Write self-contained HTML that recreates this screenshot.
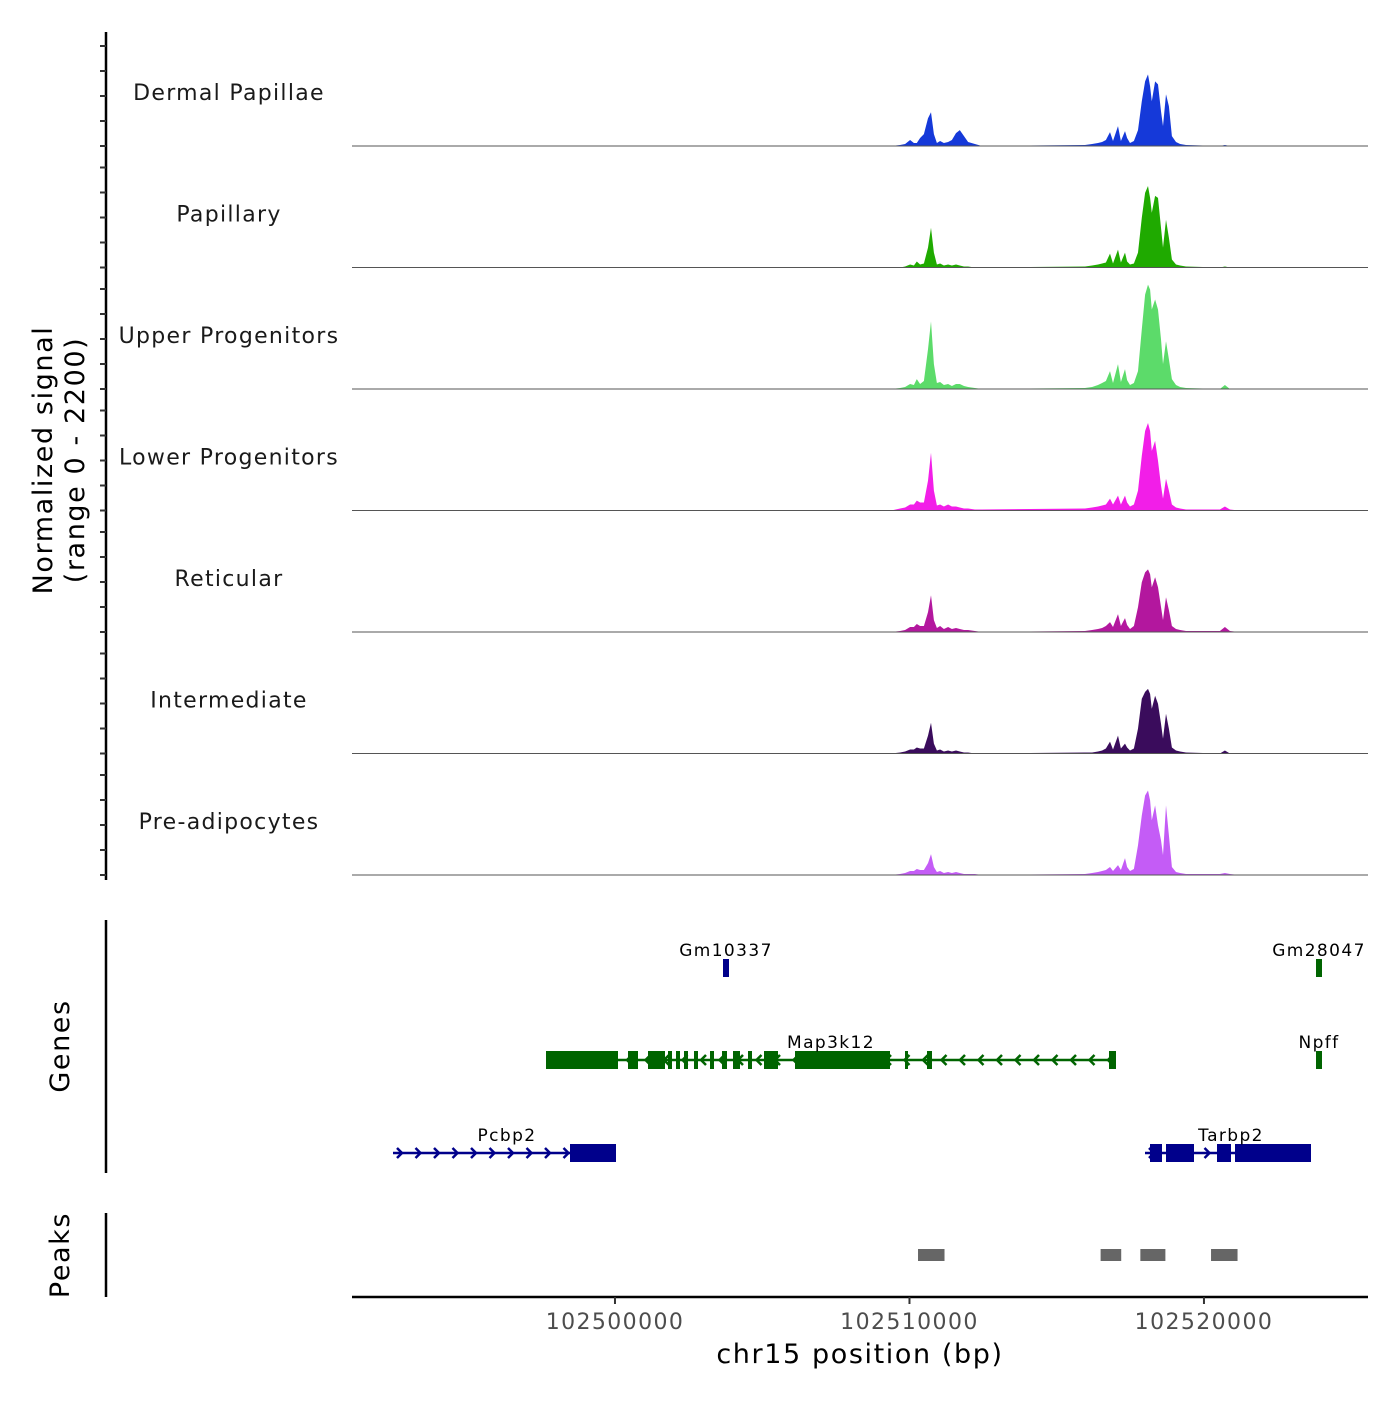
<!DOCTYPE html>
<html><head><meta charset="utf-8"><style>
body{margin:0;background:#fff}
svg text{font-family:"DejaVu Sans","Liberation Sans",sans-serif}
</style></head><body>
<svg id="chart" width="1400" height="1400" viewBox="0 0 1400 1400" xmlns="http://www.w3.org/2000/svg">
<g id="tracks"></g>
<g id="yaxis"></g>
<text transform="translate(52,460) rotate(-90)" text-anchor="middle" font-size="27" letter-spacing="1.6" fill="#000">Normalized signal</text>
<text transform="translate(84,460) rotate(-90)" text-anchor="middle" font-size="27" letter-spacing="1.6" fill="#000">(range 0 - 2200)</text>
<line x1="106" y1="920" x2="106" y2="1173" stroke="#000" stroke-width="2.5"/>
<text transform="translate(69,1046) rotate(-90)" text-anchor="middle" font-size="27" letter-spacing="1.6" fill="#000">Genes</text>
<g id="genes"></g>
<line x1="106" y1="1213" x2="106" y2="1297" stroke="#000" stroke-width="2.5"/>
<text transform="translate(69,1255) rotate(-90)" text-anchor="middle" font-size="27" letter-spacing="1.6" fill="#000">Peaks</text>
<g id="peaks"></g>
<g id="xaxis"></g>
<text x="860" y="1363" text-anchor="middle" font-size="27" letter-spacing="1.6" fill="#000">chr15 position (bp)</text>
</svg>
<script>
const trackNames=["Dermal Papillae","Papillary","Upper Progenitors","Lower Progenitors","Reticular","Intermediate","Pre-adipocytes"];
const trackColors=["#1539d9","#1faa00","#5cdb6a","#f21ee8","#b3179e","#3a0c5c","#c45cf6"];
// positions in kb offset from 102500000
const posKb=[9.68,9.85,10.02,10.15,10.25,10.36,10.49,10.63,10.73,10.83,10.93,11.04,11.17,11.31,11.44,11.58,11.71,11.85,11.99,12.22,12.46,15.96,16.20,16.40,16.54,16.67,16.81,16.91,17.08,17.18,17.32,17.39,17.49,17.62,17.76,17.89,18.00,18.10,18.17,18.23,18.34,18.44,18.54,18.61,18.71,18.81,18.91,19.05,19.19,19.39,20.54,20.71,20.88];
const sigDermal=[18,36,108,54,54,144,216,504,612,216,54,90,54,72,108,234,288,180,72,36,0,18,36,54,72,108,252,90,360,90,270,144,54,90,288,810,1170,1296,1080,810,1170,1116,630,360,936,720,180,72,36,18,0,18,0];
const sigPapillary=[0,18,54,36,108,54,72,360,720,270,54,72,36,54,36,54,36,18,18,0,0,18,36,54,72,90,252,72,324,90,270,108,54,72,270,900,1350,1476,1260,990,1296,1260,720,360,864,540,144,54,36,18,0,18,0];
const sigUpper=[18,36,90,72,180,90,144,720,1224,450,108,126,72,90,54,90,90,54,36,18,0,18,36,72,108,144,324,108,450,126,360,162,72,108,324,1080,1710,1890,1800,1440,1620,1440,900,450,864,540,180,72,36,18,0,72,0];
const sigLower=[36,54,108,108,180,144,144,540,1044,360,90,108,72,108,72,72,54,36,36,18,18,36,54,72,90,108,216,108,270,108,270,144,72,108,360,990,1440,1584,1440,1080,1260,900,450,216,576,360,108,54,36,18,18,72,18];
const sigReticular=[18,36,90,90,144,108,108,360,666,216,72,108,54,90,54,72,54,36,36,18,0,18,36,54,72,108,180,90,324,108,252,126,54,108,450,900,1080,1134,1044,810,990,810,450,216,630,396,108,54,36,18,18,90,18];
const sigIntermediate=[18,36,72,72,108,90,90,324,558,180,54,72,36,54,36,54,36,18,18,0,0,18,18,36,54,90,216,72,324,90,180,108,54,90,450,990,1116,1170,1080,810,1044,900,540,270,720,450,108,54,36,18,0,54,0];
const sigPreadipo=[18,36,72,72,108,90,90,216,378,144,54,72,36,54,36,54,36,18,18,18,0,18,36,54,72,90,144,72,180,90,306,144,72,108,540,1080,1440,1530,1350,990,1260,900,630,360,1260,720,144,54,36,18,18,36,18];
const series=[sigDermal,sigPapillary,sigUpper,sigLower,sigReticular,sigIntermediate,sigPreadipo];
const xTicks=[102500000,102510000,102520000];
const peakStarts=[102510290,102516490,102517840,102520240];
const peakEnds=[102511190,102517190,102518690,102521140];

const NS="http://www.w3.org/2000/svg";
const X0=352,X1=1368,D0=102491070,D1=102525570;
const x=bp=>X0+(bp-D0)/(D1-D0)*(X1-X0);
const TH=121.5,B0=146,YMAX=2200;
const y=(v,t)=>B0+t*TH - v/YMAX*TH;
function mk(tag,attrs,parent){const e=document.createElementNS(NS,tag);for(const k in attrs)e.setAttribute(k,attrs[k]);parent.appendChild(e);return e;}
const tracks=document.getElementById('tracks');
series.forEach((s,t)=>{
  const b=B0+t*TH;
  let d=`M${X0},${b} L${x(102500000+posKb[0]*1000-300)},${b} `;
  s.forEach((v,i)=>{d+=`L${x(102500000+posKb[i]*1000).toFixed(1)},${y(v,t).toFixed(1)} `;});
  d+=`L${x(102500000+posKb[posKb.length-1]*1000+300)},${b} L${X1},${b} Z`;
  const p=mk('path',{d:d,fill:trackColors[t]},tracks);
  
  
  const l=mk('line',{x1:X0,x2:X1,y1:b,y2:b,stroke:'#555','stroke-width':1},tracks);
  
  
  const tx=mk('text',{x:229,y:b-46,'text-anchor':'middle','font-size':22,'letter-spacing':'1.3',fill:'#1a1a1a'},tracks);
  tx.textContent=trackNames[t];
  
  
});
const ya=document.getElementById('yaxis');
mk('line',{x1:106,x2:106,y1:32,y2:880,stroke:'#000','stroke-width':2.5},ya);
for(let t=0;t<7;t++){const b=B0+t*TH;[0,25,50,75,100].forEach(o=>{if(b-o<34)return;const tk=mk('line',{x1:100,x2:106,y1:b-o,y2:b-o,stroke:'#333','stroke-width':2},ya);});}
mk('line',{x1:100,x2:106,y1:46,y2:46,stroke:'#333','stroke-width':2},ya);

// genes
const g=document.getElementById('genes');
function gene(name,y0,x0,x1,exons,strand,col,lx){
  const grp=mk('g',{},g);
  
  
  mk('line',{x1:x0,x2:x1,y1:y0,y2:y0,stroke:col,'stroke-width':2.5},grp);
  for(let ax=x0+8;ax<x1-4;ax+=18.5){
    const dir=strand>0?1:-1;
    mk('path',{d:`M${ax-4*dir},${y0-5} L${ax+1*dir},${y0} L${ax-4*dir},${y0+5}`,stroke:col,'stroke-width':2.5,fill:'none'},grp);
  }
  exons.forEach(e=>mk('rect',{x:e[0],y:y0-9,width:e[1]-e[0],height:18,fill:col},grp));
  const t=mk('text',{x:lx,y:y0-12,'text-anchor':'middle','font-size':17,'letter-spacing':'1.4',fill:'#000'},grp);t.textContent=name;
}
gene('Gm10337',968,724,728,[[723,729]],1,'#00008b',726);
gene('Gm28047',968,1317,1321,[[1316,1322]],1,'#006400',1319);
gene('Map3k12',1060,546,1116,[[546,618],[628,638],[648,665],[668,672],[676,680],[684,688],[694,698],[710,714],[722,727],[733,740],[748,752],[764,778],[795,890],[905,908],[927,932],[1109,1116]],-1,'#006400',831);
gene('Npff',1060,1317,1321,[[1316,1322]],1,'#006400',1319);
gene('Pcbp2',1153,393,616,[[570,616]],1,'#00008b',507);
gene('Tarbp2',1153,1145,1311,[[1150,1162],[1166,1194],[1217,1231],[1235,1311]],1,'#00008b',1231);

// peaks
const pk=document.getElementById('peaks');
peakStarts.forEach((s,i)=>{const r=mk('rect',{x:x(s),y:1249,width:x(peakEnds[i])-x(s),height:12,fill:'#666'},pk);

});

// x axis
const xa=document.getElementById('xaxis');
mk('line',{x1:X0,x2:X1,y1:1297,y2:1297,stroke:'#000','stroke-width':2.5},xa);
xTicks.forEach(v=>{mk('line',{x1:x(v),x2:x(v),y1:1297,y2:1304,stroke:'#333','stroke-width':2},xa);
const t=mk('text',{x:x(v),y:1329,'text-anchor':'middle','font-size':22,'letter-spacing':'1.4',fill:'#4d4d4d'},xa);t.textContent=v;

});
</script>
</body></html>
